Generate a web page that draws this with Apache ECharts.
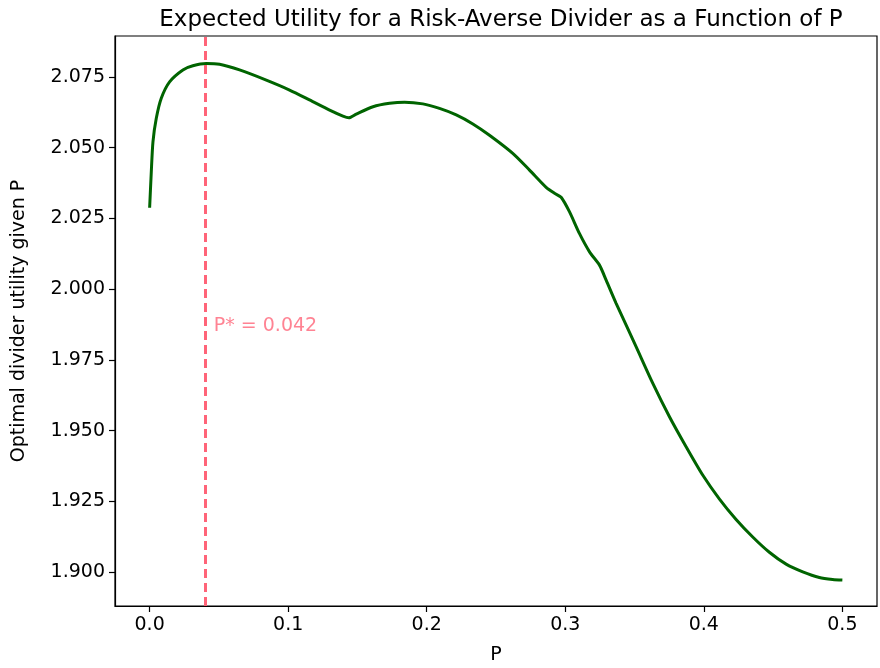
<!DOCTYPE html>
<html><head><meta charset="utf-8">
<script src="https://cdn.jsdelivr.net/npm/echarts@6/dist/echarts.min.js"></script>
<style>html,body{margin:0;padding:0;background:#fff}#c{width:880px;height:668px}</style>
</head><body><div id="c"></div>
<script>
const pValues = [0,0.0012,0.0024,0.0048,0.0084,0.0144,0.024,0.0312,0.0409,0.0505,0.0649,0.0842,0.101,0.1154,0.1299,0.1395,0.1438,0.1491,0.1612,0.1732,0.184,0.1972,0.2092,0.2213,0.2333,0.2453,0.2621,0.2742,0.2862,0.2922,0.297,0.303,0.3102,0.3175,0.3247,0.3295,0.3367,0.3511,0.3632,0.3752,0.3872,0.3993,0.4113,0.4233,0.4353,0.4473,0.4594,0.4714,0.4834,0.493,0.5];
const utility = [2.0288,2.0415,2.0521,2.0604,2.0675,2.0733,2.0775,2.0790,2.0798,2.0795,2.0775,2.0739,2.0704,2.0669,2.0633,2.0612,2.0606,2.0619,2.0645,2.0657,2.0661,2.0655,2.0639,2.0616,2.0584,2.0544,2.0480,2.0421,2.0360,2.0339,2.0325,2.0274,2.0197,2.0132,2.0085,2.0032,1.9950,1.9797,1.9667,1.9549,1.9443,1.9342,1.9258,1.9186,1.9124,1.9070,1.9028,1.9001,1.8981,1.8974,1.8972];
const pStar = 0.042;
const pStarLabel = 'P* = 0.042';
const pStarLabelY = 1.987;
const xTicks = [0.0,0.1,0.2,0.3,0.4,0.5];
const yTicks = [1.900,1.925,1.950,1.975,2.000,2.025,2.050,2.075];

const font = 'DejaVu Sans';
const chart = echarts.init(document.getElementById('c'), null, {renderer:'canvas'});
chart.setOption({
  backgroundColor:'#fff',
  animation:false,
  title:{text:'Expected Utility for a Risk-Averse Divider as a Function of P',left:496,textAlign:'center',top:4,
    textStyle:{fontFamily:font,fontSize:23,fontWeight:'normal',color:'#000'}},
  grid:{left:115,right:3,top:36,bottom:62,show:true,borderColor:'#000',borderWidth:1.2,backgroundColor:'transparent',
    containLabel:false,outerBoundsMode:'none'},
  xAxis:{type:'value',min:-0.025,max:0.525,name:'P',nameLocation:'middle',nameGap:40,
    nameTextStyle:{fontFamily:font,fontSize:19,color:'#000'},
    splitLine:{show:false},
    axisLine:{show:true,onZero:false,lineStyle:{color:'#000',width:1.2}},
    axisTick:{show:true,length:6,lineStyle:{color:'#000',width:1.2},customValues:xTicks},
    axisLabel:{fontFamily:font,fontSize:19,color:'#000',margin:10,customValues:xTicks,formatter:v=>v.toFixed(1)}},
  yAxis:{type:'value',min:1.888,max:2.0895,name:'Optimal divider utility given P',nameLocation:'middle',nameGap:86,
    nameTextStyle:{fontFamily:font,fontSize:19,color:'#000'},
    splitLine:{show:false},
    axisLine:{show:true,onZero:false,lineStyle:{color:'#000',width:1.2}},
    axisTick:{show:true,length:6,lineStyle:{color:'#000',width:1.2},customValues:yTicks},
    axisLabel:{fontFamily:font,fontSize:19,color:'#000',margin:10,customValues:yTicks,formatter:v=>v.toFixed(3)}},
  series:[
    {type:'line',data:pValues.map((p,i)=>[p,utility[i]]),showSymbol:false,smooth:0.25,
      lineStyle:{color:'#006400',width:3},z:3,
      markLine:{silent:true,symbol:['none','none'],label:{show:false},
        lineStyle:{color:'#ff6478',width:3,type:[9,5]},
        data:[{xAxis:pStar}]}},
    {type:'scatter',data:[[pStar,pStarLabelY]],symbolSize:0,
      label:{show:true,position:'right',distance:6,formatter:pStarLabel,
        fontFamily:font,fontSize:19,color:'#ff6478'}}
  ]
});
</script></body></html>
